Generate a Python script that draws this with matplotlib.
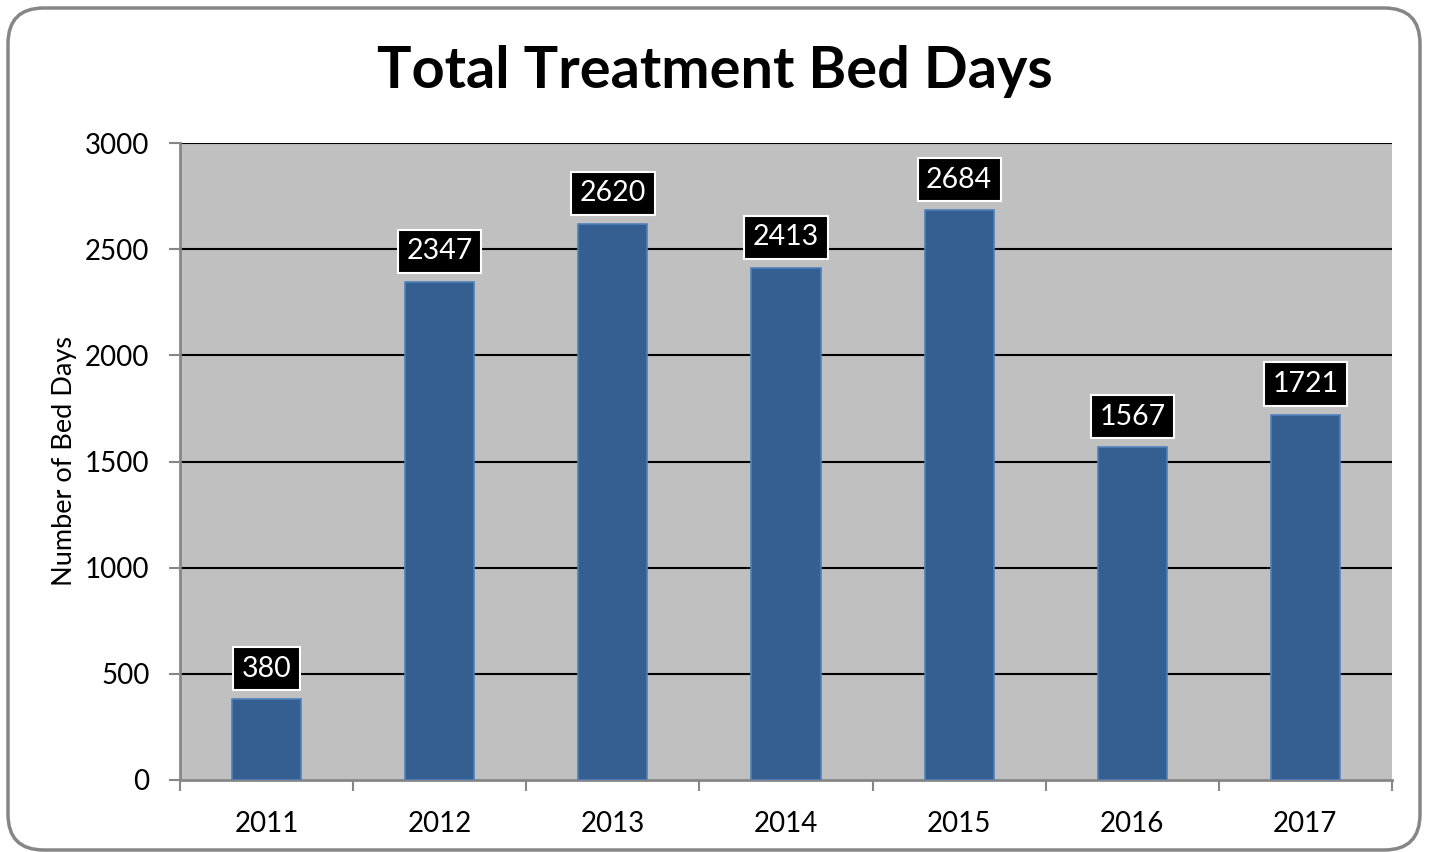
import matplotlib
matplotlib.use("Agg")
import matplotlib.pyplot as plt
from matplotlib.patches import FancyBboxPatch

years = ["2011", "2012", "2013", "2014", "2015", "2016", "2017"]
bed_days = [380, 2347, 2620, 2413, 2684, 1567, 1721]
yticks = [0, 500, 1000, 1500, 2000, 2500, 3000]

W, H = 1429, 852
fig = plt.figure(figsize=(W / 100, H / 100), dpi=100)
plt.rcParams['font.family'] = ['Lato', 'DejaVu Sans']

# outer rounded border
border = FancyBboxPatch((8 / W, 2 / H), (1420 - 8) / W, (844 - 2) / H,
                        boxstyle="round,pad=0,rounding_size=0.025",
                        transform=fig.transFigure, facecolor="none",
                        edgecolor="#868686", linewidth=2.5, zorder=10,
                        mutation_aspect=W / H)
fig.patches.append(border)

ax = fig.add_axes([180 / W, 1 - 780 / H, (1392 - 180) / W, (780 - 143) / H])
ax.set_facecolor("#C0C0C0")
x = list(range(len(years)))
bars = ax.bar(x, bed_days, width=0.40, color="#355F91", edgecolor="#4F81BD",
              linewidth=1.2, zorder=3)
ax.set_xlim(-0.5, len(years) - 0.5)
ax.set_ylim(0, 3000)
ax.set_yticks(yticks)
ax.set_xticks([i - 0.5 for i in range(len(years) + 1)], minor=False)
ax.set_xticklabels([])
ax.set_xticks(x, minor=True)
ax.set_xticklabels(years, minor=True)
ax.tick_params(axis='x', which='minor', length=0, pad=22, labelsize=20)
ax.tick_params(axis='x', which='major', length=8, direction='out', color="#868686", width=1.5)
ax.tick_params(axis='y', length=8, direction='out', color="#868686", width=1.5, labelsize=20, pad=14)
for t in yticks[1:]:
    ax.axhline(t, color="black", linewidth=1.5, zorder=1)
for s in ['top', 'right']:
    ax.spines[s].set_visible(False)
ax.spines['left'].set_color("#868686")
ax.spines['left'].set_linewidth(2)
ax.spines['bottom'].set_color("#868686")
ax.spines['bottom'].set_linewidth(2)
ax.set_ylabel("Number of Bed Days", fontsize=19.5, labelpad=6)

for xi, v in zip(x, bed_days):
    ax.annotate(str(v), (xi, v), xytext=(0, 22), textcoords="offset points",
                ha="center", va="center", color="white", fontsize=20.5, zorder=5,
                bbox=dict(boxstyle="square,pad=0.3", facecolor="black",
                          edgecolor="white", linewidth=1.5))

fig.text(715 / W, 1 - 72 / H, "Total Treatment Bed Days", ha="center", va="center",
         fontsize=41.5, fontweight="bold")

fig.savefig("out.png", dpi=100)
